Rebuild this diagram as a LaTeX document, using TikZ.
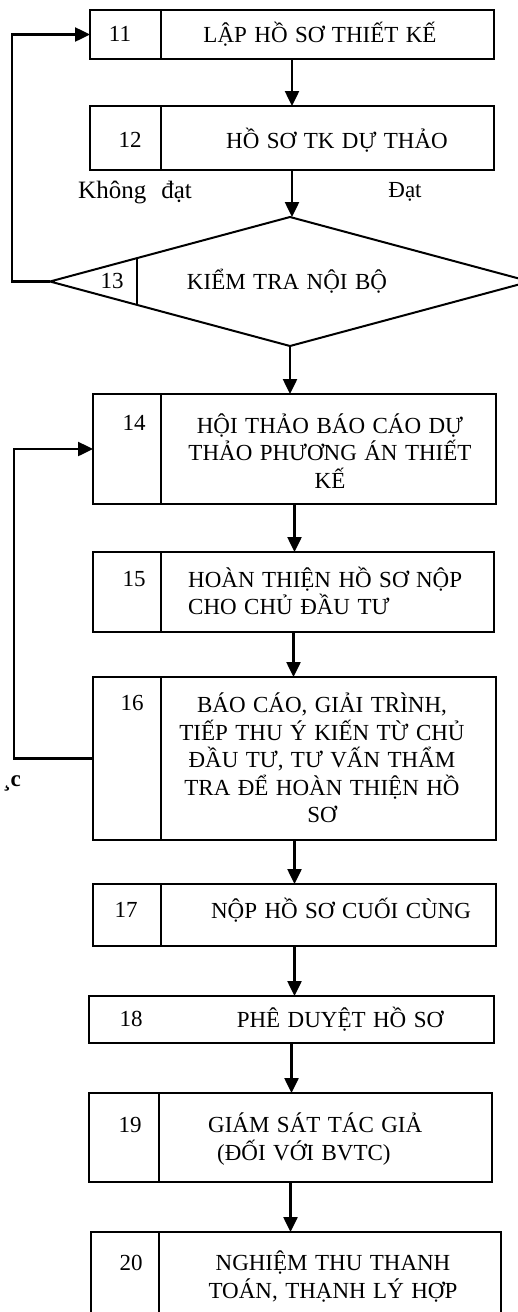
\documentclass[tikz,border=0pt]{standalone}
\usepackage{fontspec}
\setmainfont{Liberation Serif}[WordSpace=1.3]
\usetikzlibrary{arrows.meta,shapes.geometric}

\tikzset{
  stage/.style={draw, line width=2pt, inner sep=0pt, outer sep=0pt},
  txt/.style={font=\fontsize{23}{27.5}\selectfont, inner sep=0pt, align=center},
  flow/.style={line width=2.5pt, -{Triangle[length=15pt,width=14pt]}},
  link/.style={line width=2pt},
}

\begin{document}
\begin{tikzpicture}[x=1pt, y=-1pt]
\useasboundingbox (0,0) rectangle (517,1312);

% frames of the steps
\node[stage, minimum width=404, minimum height=49] (s11) at (292,34.5) {};
\node[stage, minimum width=404, minimum height=64] (s12) at (292,138) {};
\node[stage, diamond, minimum width=480, minimum height=129] (d13) at (290,281.5) {};
\node[stage, minimum width=403, minimum height=110] (s14) at (294.5,449) {};
\node[stage, minimum width=401, minimum height=80] (s15) at (293.5,592) {};
\node[stage, minimum width=403, minimum height=163] (s16) at (294.5,758.5) {};
\node[stage, minimum width=403, minimum height=62] (s17) at (294.5,915) {};
\node[stage, minimum width=405, minimum height=47] (s18) at (291.5,1019.5) {};
\node[stage, minimum width=403, minimum height=89] (s19) at (290.5,1137.5) {};
\node[stage, minimum width=410, minimum height=108] (s20) at (296,1286) {};

% number columns
\draw[link] ([xshift=71]s11.north west) -- ([xshift=71]s11.south west);
\draw[link] ([xshift=71]s12.north west) -- ([xshift=71]s12.south west);
\draw[link] ([xshift=87,yshift=23.4]d13.west) -- ([xshift=87,yshift=-23.4]d13.west);
\draw[link] ([xshift=68]s14.north west) -- ([xshift=68]s14.south west);
\draw[link] ([xshift=68]s15.north west) -- ([xshift=68]s15.south west);
\draw[link] ([xshift=68]s16.north west) -- ([xshift=68]s16.south west);
\draw[link] ([xshift=68]s17.north west) -- ([xshift=68]s17.south west);
\draw[link] ([xshift=70]s19.north west) -- ([xshift=70]s19.south west);
\draw[link] ([xshift=68]s20.north west) -- ([xshift=68]s20.south west);

% texts
\node[txt] (n11) at (120,34) {11};
\node[txt] (t11) at (320,34) {LẬP HỒ SƠ THIẾT KẾ};
\node[txt] (n12) at (130,140) {12};
\node[txt] (t12) at (337,140) {HỒ SƠ TK DỰ THẢO};
\node[txt, font=\fontsize{25}{27.5}\selectfont] (no) at (135,192) {Không\hspace{0.6em}đạt};
\node[txt] (yes) at (405,192) {Đạt};
\node[txt] (n13) at (112,281) {13};
\node[txt] (t13) at (287,281) {KIỂM TRA NỘI BỘ};
\node[txt] (n14) at (134,423) {14};
\node[txt] (t14) at (330,451) {HỘI THẢO BÁO CÁO DỰ\\THẢO PHƯƠNG ÁN THIẾT\\KẾ};
\node[txt] (n15) at (134,579) {15};
\node[txt, align=left, anchor=west] (t15) at (188,591) {HOÀN THIỆN HỒ SƠ NỘP\\CHO CHỦ ĐẦU TƯ};
\node[txt] (n16) at (132,703) {16};
\node[txt] (t16) at (322,758) {BÁO CÁO, GIẢI TRÌNH,\\TIẾP THU Ý KIẾN TỪ CHỦ\\ĐẦU TƯ, TƯ VẤN THẨM\\TRA ĐỂ HOÀN THIỆN HỒ\\SƠ};
\node[txt] (n17) at (126,910) {17};
\node[txt] (t17) at (341,910) {NỘP HỒ SƠ CUỐI CÙNG};
\node[txt] (n18) at (131,1019) {18};
\node[txt] (t18) at (340,1019) {PHÊ DUYỆT HỒ SƠ};
\node[txt] (n19) at (130,1125) {19};
\node[txt, align=left, anchor=west] (t19) at (208,1139) {GIÁM SÁT TÁC GIẢ\\\hspace*{9pt}(ĐỐI VỚI BVTC)};
\node[txt] (n20) at (131,1263) {20};
\node[txt] (t20) at (333,1276.5) {NGHIỆM THU THANH\\TOÁN, THẠNH LÝ HỢP};
\node[txt, font=\bfseries\fontsize{23}{27.5}\selectfont] (stray) at (12,783) {¸c};

% connectors
\draw[flow] (s11.south) -- (s11.south |- s12.north);
\draw[flow] (s12.south) -- (s12.south |- d13.north);
\draw[flow] (d13.south) -- (d13.south |- s14.north);
\draw[flow] (s14.south) -- (s14.south |- s15.north);
\draw[flow] (s15.south) -- (s15.south |- s16.north);
\draw[flow] (s16.south) -- (s16.south |- s17.north);
\draw[flow] (s17.south) -- (s17.south |- s18.north);
\draw[flow] (s18.south) -- (s18.south |- s19.north);
\draw[flow] (s19.south) -- (s19.south |- s20.north);
% loops back
\draw[flow] (d13.west) -- ++(-38,0) |- (s11.west);
\draw[flow] (s16.west) -- ++(-79,0) |- (s14.west);
\end{tikzpicture}
\end{document}
